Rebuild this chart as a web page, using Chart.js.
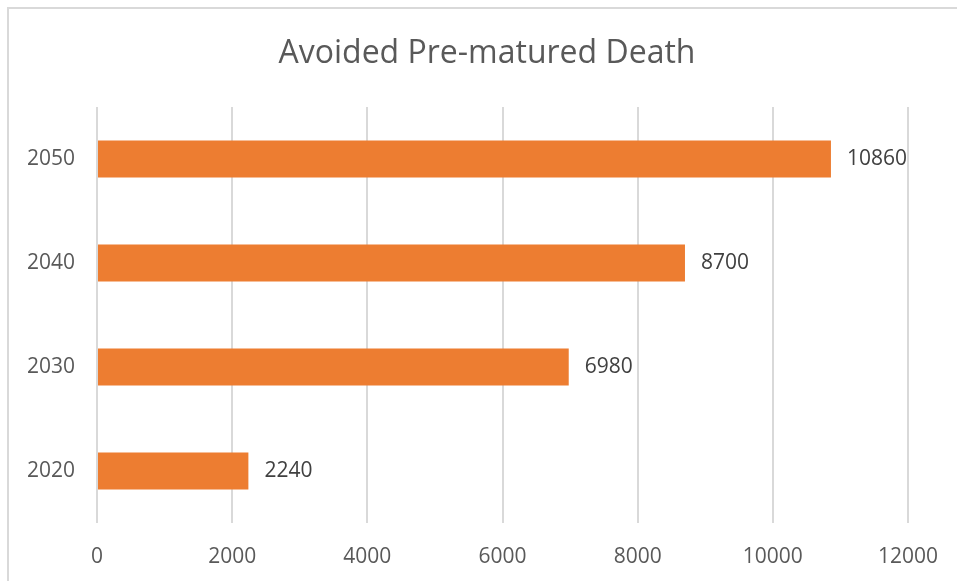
<!DOCTYPE html>
<html>
<head>
<meta charset="utf-8">
<script src="https://cdn.jsdelivr.net/npm/chart.js@4/dist/chart.umd.min.js"></script>
<style>
  body { margin: 0; background: #fff; }
  #wrap { position: relative; width: 957px; height: 581px; overflow: hidden; }
  #frame { position: absolute; left: 7px; top: 7px; width: 1000px; height: 1000px;
           border: 2px solid #d9d9d9; pointer-events: none; }
  canvas { position: absolute; left: 0; top: 0; }
</style>
</head>
<body>
<div id="wrap">
  <canvas id="chart" width="957" height="581"></canvas>
  <div id="frame"></div>
</div>
<script>
// valores, de cima para baixo
const years = ['2050', '2040', '2030', '2020'];
const avoidedDeaths = [10860, 8700, 6980, 2240];
const xTicks = [0, 2000, 4000, 6000, 8000, 10000, 12000];
const chartTitle = 'Avoided Pre-matured Death';

const FONT = "'Open Sans', 'Segoe UI', sans-serif";

// título centrado na área toda (o plugin padrão centra só na caixa do layout)
const centeredTitle = {
  id: 'centeredTitle',
  afterDraw(chart) {
    const ctx = chart.ctx;
    ctx.save();
    ctx.font = '32px ' + FONT;
    ctx.fillStyle = '#595959';
    ctx.textAlign = 'center';
    ctx.textBaseline = 'middle';
    ctx.fillText(chartTitle, 487, 54);
    ctx.restore();
  }
};

// rótulos no fim das barras
const barLabels = {
  id: 'barLabels',
  afterDatasetsDraw(chart) {
    const ctx = chart.ctx;
    const meta = chart.getDatasetMeta(0);
    ctx.save();
    ctx.font = '21px ' + FONT;
    ctx.fillStyle = '#404040';
    ctx.textAlign = 'left';
    ctx.textBaseline = 'middle';
    meta.data.forEach((bar, i) => {
      ctx.fillText(String(avoidedDeaths[i]), bar.x + 16, bar.y);
    });
    ctx.restore();
  }
};

new Chart(document.getElementById('chart'), {
  type: 'bar',
  data: {
    labels: years,
    datasets: [{
      data: avoidedDeaths,
      backgroundColor: '#ED7D31',
      borderWidth: 0,
      barPercentage: 0.355,
      categoryPercentage: 1
    }]
  },
  options: {
    indexAxis: 'y',
    responsive: false,
    animation: false,
    layout: { padding: { left: 0, right: 49, top: 107, bottom: 0 } },
    plugins: {
      legend: { display: false },
      tooltip: { enabled: false },
      title: { display: false }
    },
    scales: {
      x: {
        min: 0,
        max: 12000,
        afterBuildTicks: scale => { scale.ticks = xTicks.map(v => ({ value: v })); },
        afterFit: scale => {
          scale.height = 58;
          scale.paddingLeft = 0;
          scale.paddingRight = 0;
        },
        grid: { color: '#d9d9d9', lineWidth: 2, drawTicks: false },
        border: { display: false },
        ticks: {
          color: '#595959',
          padding: 21,
          maxRotation: 0,
          font: { family: FONT, size: 21 },
          callback: v => String(v)
        }
      },
      y: {
        afterFit: scale => {
          scale.width = 97;
          scale.paddingTop = 0;
          scale.paddingBottom = 0;
        },
        grid: { display: false, drawTicks: false },
        border: { display: false },
        ticks: {
          color: '#595959',
          padding: 22,
          font: { family: FONT, size: 21 }
        }
      }
    }
  },
  plugins: [barLabels, centeredTitle]
});
</script>
</body>
</html>
